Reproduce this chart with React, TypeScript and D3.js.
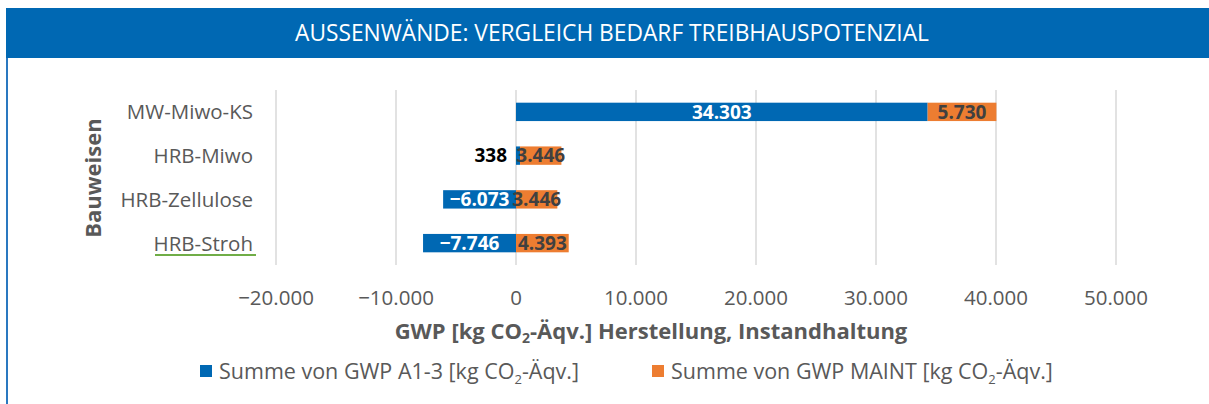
import React from 'react';
import * as d3 from 'd3';

// chart data
const categories = ['MW-Miwo-KS', 'HRB-Miwo', 'HRB-Zellulose', 'HRB-Stroh'];
const gwpA13 = [34303, 338, -6073, -7746];
const gwpMaint = [5730, 3446, 3446, 4393];
const xTicks = [-20000, -10000, 0, 10000, 20000, 30000, 40000, 50000];
const seriesNames = ['Summe von GWP A1-3 [kg CO', 'Summe von GWP MAINT [kg CO'];

const W = 1209;
const H = 404;
const BLUE = '#0068b3';
const ORANGE = '#ed7d31';
const GREY = '#595959';
const FONT = "'Open Sans', 'Noto Sans', sans-serif";

const fmt = (v: number) => {
  const s = d3.format(',')(Math.abs(v)).replace(/,/g, '.');
  return v < 0 ? '\u2212' + s : s;
};

const App = () => {
  const x = d3.scaleLinear().domain([-20000, 50000]).range([276, 1116]);
  const y = d3.scaleBand().domain(categories).range([90, 265]).paddingInner(0.58).paddingOuter(0.29);
  const bh = y.bandwidth();

  return (
    <svg width={W} height={H} style={{ position: 'absolute', left: 0, top: 0, background: '#fff' }} fontFamily={FONT}>
      {/* header band */}
      <rect x={6} y={8} width={W - 6} height={50} fill={BLUE} />
      <text x={612} y={41} fill="#fff" fontSize={23} textAnchor="middle" textLength={634} lengthAdjust="spacingAndGlyphs">
        AUSSENWÄNDE: VERGLEICH BEDARF TREIBHAUSPOTENZIAL
      </text>
      <line x1={7} x2={7} y1={58} y2={H} stroke="#2a78c0" strokeWidth={2} />

      {/* gridlines */}
      {xTicks.map(t => (
        <line key={t} x1={x(t)} x2={x(t)} y1={90} y2={265} stroke="#d9d9d9" strokeWidth={1.5} />
      ))}

      {/* bars */}
      {categories.map((c, i) => {
        const a = gwpA13[i];
        const m = gwpMaint[i];
        const yy = y(c) as number;
        const ax0 = Math.min(x(0), x(a));
        const aw = Math.abs(x(a) - x(0));
        const mStart = a > 0 ? a : 0;
        const mx0 = x(mStart);
        const mw = x(mStart + m) - x(mStart);
        const aInside = aw > 40;
        return (
          <g key={c}>
            <rect x={ax0} y={yy} width={aw} height={bh} fill={BLUE} />
            <rect x={mx0} y={yy} width={mw} height={bh} fill={ORANGE} />
            {aInside ? (
              <text x={ax0 + aw / 2} y={yy + bh / 2} dy="0.36em" textAnchor="middle" fill="#fff" fontWeight="bold" fontSize={19}>
                {fmt(a)}
              </text>
            ) : (
              <text x={x(0) - 9} y={yy + bh / 2} dy="0.36em" textAnchor="end" fill="#000" fontWeight="bold" fontSize={19}>
                {fmt(a)}
              </text>
            )}
            <text x={mx0 + mw / 2} y={yy + bh / 2} dy="0.36em" textAnchor="middle" fill="#404040" fontWeight="bold" fontSize={19}>
              {fmt(m)}
            </text>
            <text x={253} y={yy + bh / 2} dy="0.36em" textAnchor="end" fill={GREY} fontSize={20.5}>
              {c}
            </text>
          </g>
        );
      })}
      {/* spellcheck-style underline seen in the source */}
      <line x1={155} x2={256} y1={255} y2={255} stroke="#70ad47" strokeWidth={2} />

      {/* y axis title */}
      <text transform="translate(101,178) rotate(-90)" textAnchor="middle" fill={GREY} fontWeight="bold" fontSize={22}>
        Bauweisen
      </text>

      {/* x tick labels */}
      {xTicks.map(t => (
        <text key={t} x={x(t)} y={305} textAnchor="middle" fill={GREY} fontSize={20.5}>
          {fmt(t)}
        </text>
      ))}

      {/* x axis title */}
      <text x={651} y={339} textAnchor="middle" fill={GREY} fontWeight="bold" fontSize={22}>
        GWP [kg CO<tspan fontSize={14} dy={4}>2</tspan><tspan dy={-4}>-Äqv.] Herstellung, Instandhaltung</tspan>
      </text>

      {/* legend */}
      {seriesNames.map((s, i) => {
        const lx = i === 0 ? 200 : 652;
        return (
          <g key={s}>
            <rect x={lx} y={365} width={12} height={12} fill={i === 0 ? BLUE : ORANGE} />
            <text x={lx + 19} y={379} fill={GREY} fontSize={21.5}>
              {s}<tspan fontSize={13} dy={5}>2</tspan><tspan dy={-5}>-Äqv.]</tspan>
            </text>
          </g>
        );
      })}
    </svg>
  );
};

export default App;
